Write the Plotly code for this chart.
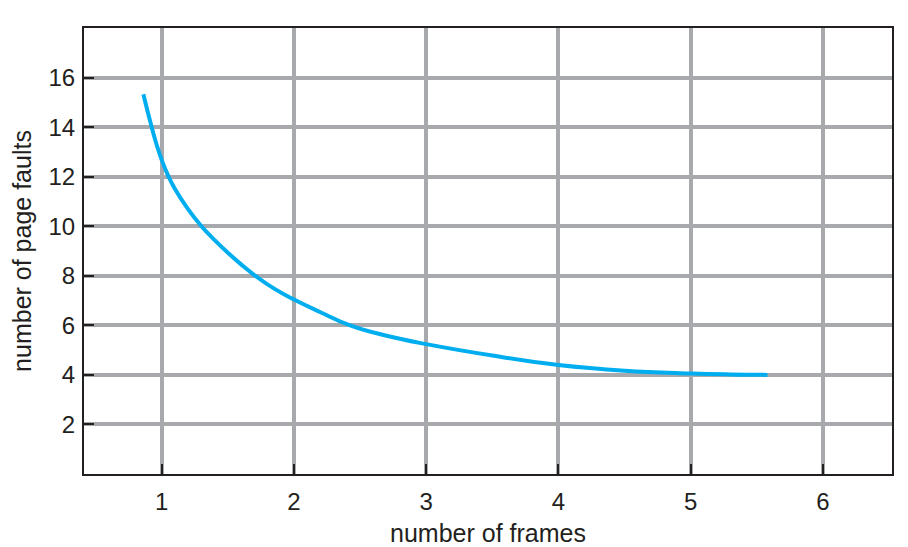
import plotly.graph_objects as go

# Data
frames = [0.861, 0.9, 0.95, 1.0, 1.05, 1.1, 1.2, 1.3, 1.4, 1.5, 1.6, 1.7, 1.85, 2.0,
          2.2, 2.424, 2.7, 3.0, 3.5, 4.0, 4.5, 5.0, 5.3, 5.58]
faults = [15.33, 14.49, 13.49, 12.67, 12.02, 11.5, 10.68, 10.0, 9.44, 8.93, 8.46, 8.03, 7.48, 7.04,
          6.53, 6.0, 5.58, 5.24, 4.78, 4.40, 4.17, 4.06, 4.02, 4.0]

x_ticks = [1, 2, 3, 4, 5, 6]
y_ticks = [2, 4, 6, 8, 10, 12, 14, 16]

GRID = "#a7a9ac"
FRAME = "#231f20"
CURVE = "#00aeef"
FONT = "Liberation Sans, Arial, Helvetica, sans-serif"

fig = go.Figure()
fig.add_trace(go.Scatter(
    x=frames, y=faults, mode="lines",
    line=dict(color=CURVE, width=4, shape="spline", smoothing=1.3),
    showlegend=False, hoverinfo="skip",
))

def axis_style(title_text, standoff, label_standoff, rng, vals):
    return dict(
        range=rng, tickvals=vals, ticktext=[str(v) for v in vals],
        showgrid=True, gridcolor=GRID, gridwidth=3.5,
        showline=True, linecolor=FRAME, linewidth=2, mirror=True,
        ticks="inside", ticklen=10, tickwidth=1.5, tickcolor=FRAME,
        zeroline=False, automargin=False,
        ticklabelstandoff=label_standoff,
        tickfont=dict(family=FONT, size=24, color=FRAME),
        title=dict(text=title_text, standoff=standoff,
                   font=dict(family=FONT, size=25, color=FRAME)),
    )

fig.update_layout(
    width=908, height=547,
    margin=dict(l=84, r=16, t=28, b=73),
    paper_bgcolor="white", plot_bgcolor="white",
    xaxis=axis_style("number of frames", 12, 5, [0.412, 6.522], x_ticks),
    yaxis=axis_style("number of page faults", 10, 2, [0.0, 18.0], y_ticks),
)

fig.write_html("out.html", config={"displayModeBar": False},
               post_script="document.body.style.margin='0';")
